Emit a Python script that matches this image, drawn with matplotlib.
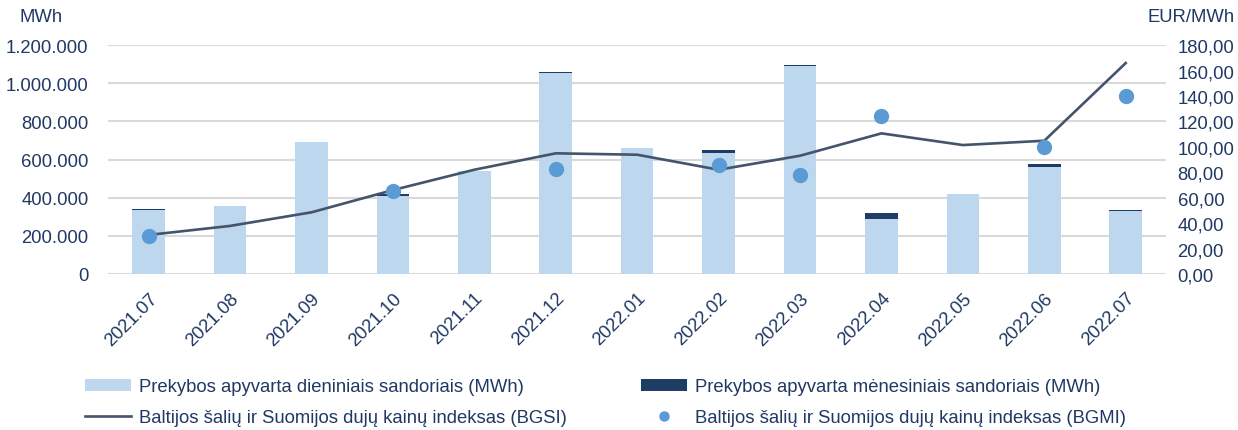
import numpy as np
import matplotlib.pyplot as plt

plt.rcParams['font.family'] = ['Liberation Sans', 'DejaVu Sans']

months = ["2021.07", "2021.08", "2021.09", "2021.10", "2021.11", "2021.12", "2022.01",
          "2022.02", "2022.03", "2022.04", "2022.05", "2022.06", "2022.07"]
daily = [335000, 356000, 692000, 409000, 540000, 1052000, 660000,
         632000, 1092000, 288000, 419000, 563000, 330000]
monthly = [5000, 0, 0, 10000, 0, 6000, 0,
           19000, 6000, 30000, 0, 13000, 5000]
bgsi = [30.7, 37.8, 48.5, 66.0, 82.0, 94.9, 93.8, 82.0, 93.0, 110.6, 101.4, 104.8, 165.9]
bgmi = [29.6, np.nan, np.nan, 65.0, np.nan, 82.5, np.nan, 85.7, 78.0, 124.0, np.nan, 99.6, 140.2]

txt = '#203864'
light = '#bdd7ee'
dark = '#1f3c64'
line_c = '#44546a'
dot_c = '#5b9bd5'
fs = 13.3

fig = plt.figure(figsize=(12.38, 4.31), dpi=100)
ax = fig.add_axes([0.0872, 0.362, 0.855, 0.531])
ax2 = ax.twinx()

x = np.arange(len(months))
ax.bar(x, daily, width=0.4, color=light, label="Prekybos apyvarta dieniniais sandoriais (MWh)", zorder=2)
ax.bar(x, monthly, width=0.4, bottom=daily, color=dark,
       label="Prekybos apyvarta mėnesiniais sandoriais (MWh)", zorder=2)
ax2.plot(x, bgsi, color=line_c, lw=1.9, label="Baltijos šalių ir Suomijos dujų kainų indeksas (BGSI)", zorder=3)
ax2.plot(x, bgmi, 'o', color=dot_c, ms=10, label="Baltijos šalių ir Suomijos dujų kainų indeksas (BGMI)", zorder=4)

ax.set_xlim(-0.5, len(months) - 0.5)
ax.set_ylim(0, 1200000)
ax.set_yticks(np.arange(0, 1200001, 200000))
ax.set_yticklabels([f"{v:,}".replace(",", ".") for v in range(0, 1200001, 200000)])
ax2.set_ylim(0, 180)
ax2.set_yticks(np.arange(0, 181, 20))
ax2.set_yticklabels([f"{v},00" for v in range(0, 181, 20)])

ax.grid(axis='y', color='#d9d9d9', lw=1.5, zorder=0)
ax.set_axisbelow(True)
for a in (ax, ax2):
    for s in a.spines.values():
        s.set_visible(False)
    a.tick_params(length=0, labelsize=fs, colors=txt)
ax.tick_params(axis='y', pad=14)
ax2.tick_params(axis='y', pad=8)

ax.set_xticks(x)
ax.set_xticklabels(months, rotation=45, ha='right', rotation_mode='anchor')
ax.tick_params(axis='x', pad=11)

fig.text(0.016, 0.96, "MWh", fontsize=fs, color=txt, va='center')
fig.text(0.997, 0.96, "EUR/MWh", fontsize=fs, color=txt, va='center', ha='right')

h1, l1 = ax.get_legend_handles_labels()
h2, l2 = ax2.get_legend_handles_labels()
handles = [h1[0], h2[0], h1[1], h2[1]]
labels = [l1[0], l2[0], l1[1], l2[1]]
leg = fig.legend(handles, labels, ncol=2, loc='center', bbox_to_anchor=(0.489, 0.064),
                 frameon=False, fontsize=fs, handlelength=2.5, handleheight=0.6,
                 columnspacing=4.05, labelspacing=0.75, handletextpad=0.4, markerscale=0.65)
for t in leg.get_texts():
    t.set_color(txt)

fig.savefig("out.png", dpi=100)
